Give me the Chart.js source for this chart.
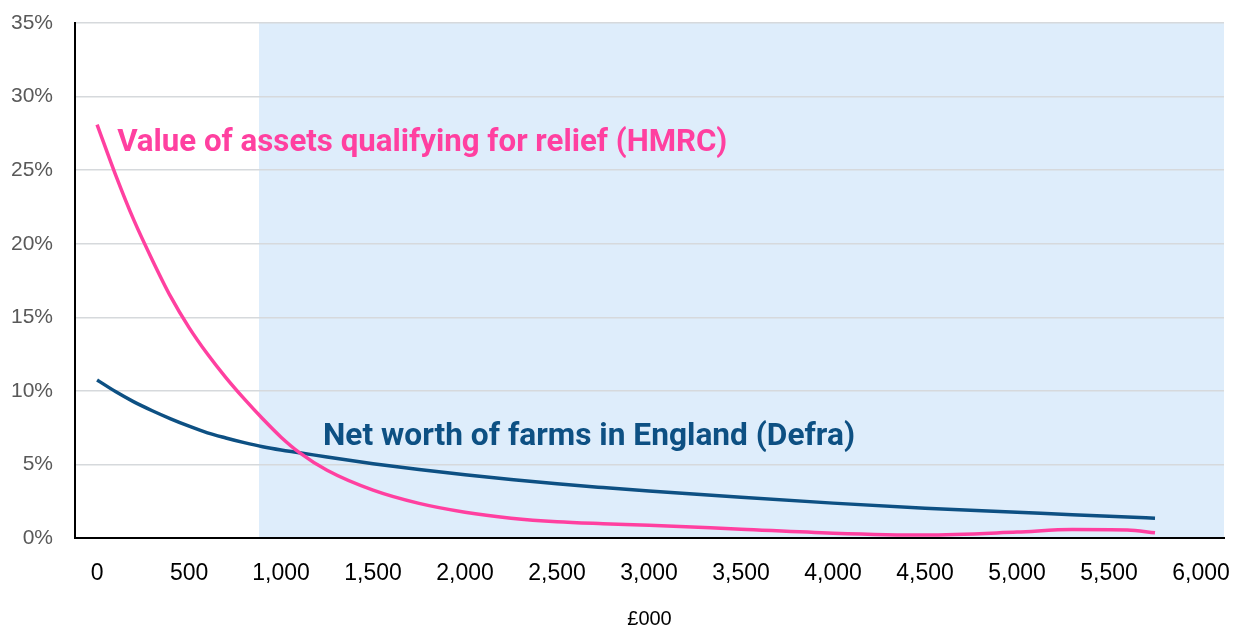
<!DOCTYPE html>
<html>
<head>
<meta charset="utf-8">
<script src="https://cdn.jsdelivr.net/npm/chart.js@4/dist/chart.umd.min.js"></script>
<style>
  html, body { margin: 0; padding: 0; background: #fff; }
  #wrap { width: 1240px; height: 631px; }
</style>
</head>
<body>
<div id="wrap"><canvas id="chart"></canvas></div>
<script>
// wealth level, £000
var wealth = [0, 100, 200, 300, 400, 500, 600, 700, 800, 900, 1000, 1100, 1250, 1500, 1750, 2000, 2250, 2500, 2750, 3000, 3500, 4000, 4500, 5000, 5300, 5600, 5750];
// share (%) - HMRC, assets qualifying for relief
var hmrcShare = [28.1, 24.7, 21.6, 18.9, 16.4, 14.3, 12.5, 10.9, 9.45, 8.1, 6.85, 5.8, 4.6, 3.25, 2.35, 1.75, 1.35, 1.1, 0.97, 0.87, 0.6, 0.33, 0.2, 0.4, 0.58, 0.55, 0.35];
// share (%) - Defra, net worth of farms
var defraShare = [10.74, 9.95, 9.25, 8.65, 8.1, 7.6, 7.15, 6.8, 6.48, 6.2, 5.98, 5.8, 5.5, 5.05, 4.65, 4.3, 3.98, 3.68, 3.43, 3.2, 2.77, 2.37, 2.02, 1.75, 1.58, 1.43, 1.35];

var xTicks = [0, 500, 1000, 1500, 2000, 2500, 3000, 3500, 4000, 4500, 5000, 5500, 6000];
var yTicks = [0, 5, 10, 15, 20, 25, 30, 35];
var shadeStart = 880;

var pink = 'rgb(255, 64, 160)';
var navy = 'rgb(13, 80, 131)';

function toPoints(xs, ys) {
    return xs.map(function (x, i) { return { x: x, y: ys[i] }; });
}

// shaded band (beyond threshold) behind grid
var shadePlugin = {
    id: 'shade',
    beforeDraw: function (chart) {
        var ctx = chart.ctx, a = chart.chartArea;
        var x0 = chart.scales.x.getPixelForValue(shadeStart);
        ctx.save();
        ctx.fillStyle = '#fff';
        ctx.fillRect(0, 0, chart.width, chart.height);
        ctx.fillStyle = 'rgb(222, 237, 251)';
        ctx.fillRect(x0, a.top, a.right - x0, a.bottom - a.top);
        ctx.restore();
    }
};

// series labels placed on the plot
var seriesLabels = [
    { text: 'Value of assets qualifying for relief (HMRC)', x: 109, y: 26.85, color: pink, width: 610 },
    { text: 'Net worth of farms in England (Defra)', x: 1228, y: 6.87, color: navy, width: 532 }
];
var labelPlugin = {
    id: 'seriesLabels',
    afterDatasetsDraw: function (chart) {
        var ctx = chart.ctx;
        ctx.save();
        ctx.font = 'bold 32px Roboto';
        ctx.textBaseline = 'middle';
        ctx.textAlign = 'left';
        seriesLabels.forEach(function (l) {
            ctx.fillStyle = l.color;
            ctx.fillText(l.text, chart.scales.x.getPixelForValue(l.x), chart.scales.y.getPixelForValue(l.y), l.width);
        });
        ctx.restore();
    }
};

var ctx = document.getElementById('chart').getContext('2d');
new Chart(ctx, {
    type: 'line',
    data: {
        datasets: [{
            label: 'Value of assets qualifying for relief (HMRC)',
            data: toPoints(wealth, hmrcShare),
            borderColor: pink,
            borderWidth: 3.5,
            pointRadius: 0,
            cubicInterpolationMode: 'monotone'
        }, {
            label: 'Net worth of farms in England (Defra)',
            data: toPoints(wealth, defraShare),
            borderColor: navy,
            borderWidth: 3.5,
            pointRadius: 0,
            cubicInterpolationMode: 'monotone'
        }]
    },
    options: {
        responsive: true,
        maintainAspectRatio: false,
        animation: false,
        layout: { padding: { top: 23, right: 16, left: 0, bottom: 0 } },
        plugins: {
            legend: { display: false },
            tooltip: { enabled: false }
        },
        scales: {
            x: {
                type: 'linear',
                min: -120,
                max: 6125,
                afterBuildTicks: function (scale) {
                    scale.ticks = xTicks.map(function (v) { return { value: v }; });
                },
                afterFit: function (scale) {
                    scale.height = 93;
                    scale.paddingLeft = 0;
                    scale.paddingRight = 0;
                },
                grid: { display: false, drawTicks: false },
                border: { color: '#000', width: 2 },
                ticks: {
                    color: '#000',
                    padding: 22,
                    maxRotation: 0,
                    font: { family: 'Liberation Sans', size: 23 },
                    callback: function (v) { return v.toLocaleString('en-GB'); }
                },
                title: {
                    display: true,
                    text: '£000',
                    color: '#000',
                    font: { family: 'Liberation Sans', size: 20 },
                    padding: { top: 25, bottom: 0 }
                }
            },
            y: {
                min: 0,
                max: 35,
                afterBuildTicks: function (scale) {
                    scale.ticks = yTicks.map(function (v) { return { value: v }; });
                },
                afterFit: function (scale) {
                    scale.width = 75;
                    scale.paddingTop = 0;
                    scale.paddingBottom = 0;
                },
                grid: { color: '#d6d9dc', lineWidth: 1.5, drawTicks: false },
                border: { color: '#000', width: 2 },
                ticks: {
                    color: '#595959',
                    padding: 22,
                    font: { family: 'Liberation Sans', size: 21 },
                    callback: function (v) { return v + '%'; }
                }
            }
        }
    },
    plugins: [shadePlugin, labelPlugin]
});
</script>
</body>
</html>
